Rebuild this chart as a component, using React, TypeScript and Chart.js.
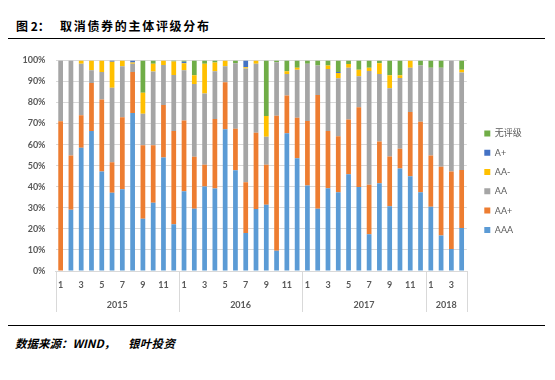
import React, { useEffect, useRef } from 'react';
import { Chart, registerables } from 'chart.js';

Chart.register(...registerables);

const FONT = "Lato, 'Noto Sans CJK SC', sans-serif";
const CJK = "'Noto Sans CJK SC', sans-serif";

// x categories: month of each bar
const months = [
  '1', '2', '3', '4', '5', '6', '7', '8', '9', '10', '11', '12',
  '1', '2', '3', '4', '5', '6', '7', '8', '9', '10', '11', '12',
  '1', '2', '3', '4', '5', '6', '7', '8', '9', '10', '11', '12',
  '1', '2', '3', '4',
];
const yearLabels = ['2015', '2016', '2017', '2018'];
const yearBarCounts = [12, 12, 12, 4];

const seriesNames = ['AAA', 'AA+', 'AA', 'AA-', 'A+', '无评级'];
const seriesColors = ['#5B9BD5', '#ED7D31', '#A5A5A5', '#FFC000', '#4472C4', '#70AD47'];

const aaa = [
  0, 29.1, 58.5, 66.5, 47.3, 37.1, 38.8, 75.0, 24.8, 32.4, 53.9, 22.2,
  37.9, 29.6, 40.1, 39.2, 67.3, 47.8, 18.1, 29.4, 31.4, 9.6, 65.4, 53.5,
  40.6, 29.6, 39.3, 37.4, 45.9, 39.9, 17.5, 41.7, 30.7, 48.7, 45.0, 37.4,
  30.5, 16.8, 10.4, 20.4,
];
const aaPlus = [
  71.1, 25.8, 15.4, 22.8, 34.1, 14.5, 34.2, 19.5, 34.9, 27.3, 24.9, 44.3,
  33.6, 24.6, 10.4, 33.0, 22.3, 19.8, 24.0, 36.2, 19.1, 64.1, 17.9, 19.3,
  30.6, 54.0, 27.2, 26.6, 26.0, 37.9, 23.5, 19.8, 23.7, 9.3, 30.5, 33.5,
  24.4, 32.7, 36.8, 27.6,
];
const aa = [
  28.9, 45.1, 24.5, 6.0, 13.1, 35.4, 24.2, 3.9, 15.0, 35.0, 19.0, 26.6,
  23.8, 34.6, 33.8, 22.6, 7.6, 31.1, 54.1, 32.8, 13.2, 25.4, 10.3, 22.8,
  27.2, 14.0, 29.4, 27.5, 24.6, 14.7, 54.0, 32.1, 32.4, 33.7, 21.0, 26.7,
  41.6, 47.0, 52.8, 46.3,
];
const aaMinus = [
  0, 0, 1.6, 4.7, 5.5, 12.4, 2.8, 0.6, 9.9, 3.7, 2.2, 6.4,
  3.4, 4.1, 14.1, 4.2, 2.8, 0, 0.5, 1.6, 9.9, 0, 1.2, 0.9,
  0, 0, 1.7, 2.5, 1.8, 3.1, 1.5, 5.1, 6.1, 1.2, 3.5, 0,
  0, 0, 0, 1.3,
];
const aPlus = [
  0, 0, 0, 0, 0, 0.6, 0, 1.0, 0, 0, 0, 0,
  0.7, 0, 0, 0, 0, 0, 3.3, 0, 0, 0, 0, 0,
  0, 0, 0, 0.5, 0, 0, 0, 0, 0, 0, 0, 0,
  0, 0, 0, 0,
];
const unrated = [
  0, 0, 0, 0, 0, 0, 0, 0, 15.4, 1.6, 0, 0.5,
  0.6, 7.1, 1.6, 1.0, 0, 1.3, 0, 0, 26.4, 0.9, 5.2, 3.5,
  1.6, 2.4, 2.4, 5.5, 1.7, 4.4, 3.5, 1.3, 7.1, 7.1, 0, 2.4,
  3.5, 3.5, 0, 4.4,
];
const seriesValues = [aaa, aaPlus, aa, aaMinus, aPlus, unrated];

const yearAxisPlugin = {
  id: 'yearAxis',
  afterDraw(chart: any) {
    const { ctx, chartArea } = chart;
    const x = chart.scales.x;
    const half = (x.getPixelForValue(1) - x.getPixelForValue(0)) / 2;
    ctx.save();
    ctx.strokeStyle = '#D9D9D9';
    ctx.lineWidth = 1;
    ctx.fillStyle = '#595959';
    ctx.font = `bold 9px ${FONT}`;
    ctx.textAlign = 'center';
    ctx.textBaseline = 'middle';
    const drawSep = (px: number) => {
      const xx = Math.round(px) + 0.5;
      ctx.beginPath();
      ctx.moveTo(xx, chartArea.bottom);
      ctx.lineTo(xx, chartArea.bottom + 41);
      ctx.stroke();
    };
    drawSep(x.getPixelForValue(0) - half);
    let start = 0;
    yearLabels.forEach((yl, i) => {
      const end = start + yearBarCounts[i] - 1;
      const cx = (x.getPixelForValue(start) + x.getPixelForValue(end)) / 2;
      ctx.fillText(yl, cx, chartArea.bottom + 34);
      drawSep(x.getPixelForValue(end) + half);
      start = end + 1;
    });
    ctx.restore();
  },
};

export default function App() {
  const ref = useRef<HTMLCanvasElement>(null);

  useEffect(() => {
    if (!ref.current) return;
    const chart = new Chart(ref.current, {
      type: 'bar',
      data: {
        labels: months,
        datasets: seriesNames.map((name, i) => ({
          label: name,
          data: seriesValues[i],
          backgroundColor: seriesColors[i],
          borderWidth: 0,
          barPercentage: 0.46,
          categoryPercentage: 1,
        })),
      },
      options: {
        responsive: false,
        animation: false,
        devicePixelRatio: 1,
        layout: { padding: { top: 15, bottom: 21.7, left: 0, right: 23.2 } },
        plugins: {
          legend: {
            position: 'right',
            reverse: true,
            labels: {
              boxWidth: 6,
              boxHeight: 6,
              padding: 10.3,
              color: '#595959',
              font: { size: 9, family: FONT },
            },
          },
          tooltip: { enabled: false },
          title: { display: false },
        },
        scales: {
          x: {
            stacked: true,
            grid: { display: false, drawTicks: false },
            border: { display: true, color: '#D9D9D9' },
            ticks: {
              autoSkip: false,
              maxRotation: 0,
              padding: 8.6,
              color: '#595959',
              font: { size: 9, weight: 'bold', family: FONT },
              callback: (_v: any, i: number) => (Number(months[i]) % 2 === 1 ? months[i] : ''),
            },
            afterFit: (s: any) => {
              s.height = 32.3;
            },
          },
          y: {
            stacked: true,
            min: 0,
            max: 100,
            ticks: {
              stepSize: 10,
              padding: 10,
              color: '#595959',
              font: { size: 9, weight: 'bold', family: FONT },
              callback: (v: any) => `${v}%`,
            },
            grid: { color: '#D9D9D9', drawTicks: false },
            border: { display: false },
            afterFit: (s: any) => {
              s.width = 55.5;
            },
          },
          y2: {
            position: 'right',
            display: true,
            grid: { display: false, drawTicks: false },
            border: { display: false },
            ticks: { display: false },
            afterFit: (s: any) => {
              s.width = 7.2;
            },
          },
        },
      } as any,
      plugins: [yearAxisPlugin],
    });
    return () => chart.destroy();
  }, []);

  return (
    <div
      style={{
        position: 'absolute',
        left: 0,
        top: 0,
        width: 555,
        height: 380,
        background: '#fff',
        overflow: 'hidden',
      }}
    >
      <div
        style={{
          position: 'absolute',
          left: 16,
          top: 18.5,
          font: `bold 12px ${CJK}`,
          lineHeight: '14px',
          color: '#000',
          whiteSpace: 'nowrap',
        }}
      >
        图 2：
      </div>
      <div
        style={{
          position: 'absolute',
          left: 60,
          top: 18.5,
          font: `bold 12px ${CJK}`,
          lineHeight: '14px',
          letterSpacing: '1.7px',
          color: '#000',
          whiteSpace: 'nowrap',
        }}
      >
        取消债券的主体评级分布
      </div>
      <div style={{ position: 'absolute', left: 8, top: 38, width: 537, height: 1, background: '#000' }} />
      <canvas
        ref={ref}
        width={555}
        height={280}
        style={{ position: 'absolute', left: 0, top: 45, width: 555, height: 280 }}
      />
      <div style={{ position: 'absolute', left: 8, top: 325, width: 537, height: 1, background: '#000' }} />
      <div
        style={{
          position: 'absolute',
          left: 15,
          top: 335.5,
          font: `italic bold 11.5px ${CJK}`,
          lineHeight: '14px',
          color: '#000',
          whiteSpace: 'nowrap',
        }}
      >
        数据来源：WIND，
      </div>
      <div
        style={{
          position: 'absolute',
          left: 128,
          top: 335.5,
          font: `italic bold 11.5px ${CJK}`,
          lineHeight: '14px',
          letterSpacing: '0.3px',
          color: '#000',
          whiteSpace: 'nowrap',
        }}
      >
        银叶投资
      </div>
    </div>
  );
}
